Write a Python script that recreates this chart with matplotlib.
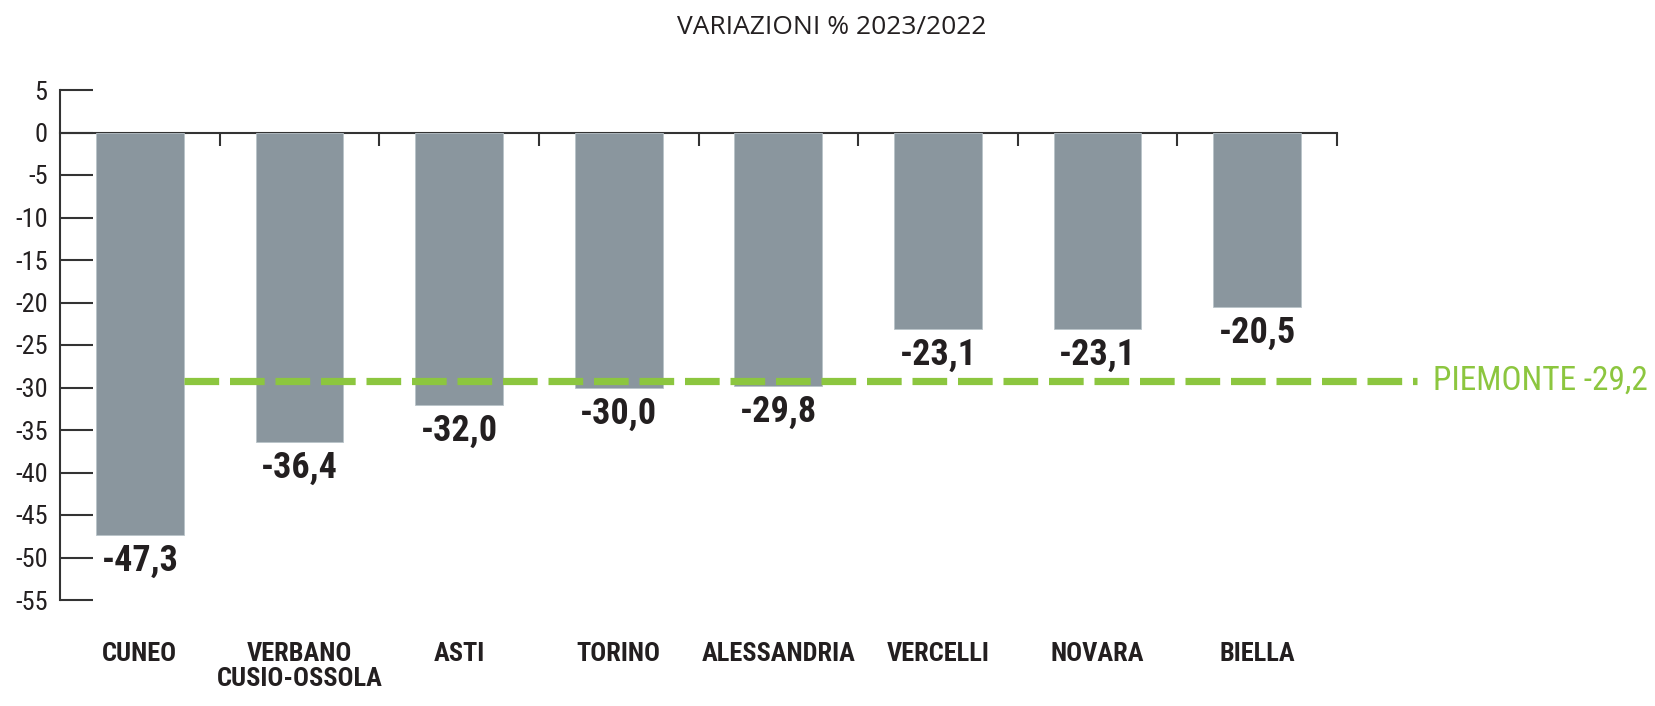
import numpy as np
import matplotlib
matplotlib.use("Agg")
import matplotlib.pyplot as plt
from matplotlib import font_manager

# data
provinces = ["CUNEO", "VERBANO\nCUSIO-OSSOLA", "ASTI", "TORINO", "ALESSANDRIA",
             "VERCELLI", "NOVARA", "BIELLA"]
variations = [-47.3, -36.4, -32.0, -30.0, -29.8, -23.1, -23.1, -20.5]
piemonte = -29.2
yticks = list(range(5, -56, -5))

BAR = "#8a969e"
GREEN = "#8cc63f"
INK = "#231f20"


def pick_narrow():
    # the original uses a condensed face, take the narrowest one we can find
    fonts = font_manager.fontManager.ttflist
    names = {f.name for f in fonts}
    for cand in ["Liberation Sans Narrow", "Roboto Condensed", "Open Sans Condensed",
                 "Noto Sans Condensed", "DejaVu Sans Condensed"]:
        if cand in names:
            return cand, 1.0
    for f in fonts:
        if "Narrow" in f.name or "Condensed" in f.name:
            return f.name, 1.0
    if "Roboto" in names:
        return "Roboto", 0.86
    return "Liberation Sans", 0.84


NARROW, k = pick_narrow()
FAM = [NARROW, "DejaVu Sans"]


def fmt(v):
    return "{:.1f}".format(v).replace(".", ",")


fig = plt.figure(figsize=(16.55, 7.06), dpi=100)
ax = fig.add_axes([60 / 1655, 1 - 600 / 706, 1277 / 1655, 510 / 706])

x = np.arange(len(provinces))
width = 0.55
ax.bar(x, variations, width=width, color=BAR, edgecolor="#b9c3c9", linewidth=0.6, zorder=3)

for xi, v in zip(x, variations):
    ax.annotate(fmt(v), (xi, v), xytext=(0, -6), textcoords="offset points",
                ha="center", va="top", fontsize=26 * k, fontweight="bold",
                family=FAM, color=INK, zorder=4)

# regional average
ax.hlines(piemonte, x[0] + width / 2, len(provinces), colors=GREEN, linewidth=5.2,
          linestyles=(0, (4.8, 1.5)), zorder=5, clip_on=False)
ax.text(len(provinces) + 0.1, piemonte, "PIEMONTE " + fmt(piemonte), ha="left", va="center",
        fontsize=24 * k, family=FAM, color=GREEN, clip_on=False)

ax.set_xlim(-0.5, len(provinces) - 0.5)
ax.set_ylim(-55, 5)
ax.set_yticks(yticks)
ax.set_yticklabels([str(t) for t in yticks], family=FAM, fontsize=19 * k, color=INK)

# zero line with separators pointing down
ax.spines["top"].set_position(("data", 0))
ax.spines["bottom"].set_visible(False)
ax.spines["right"].set_visible(False)
for s in ("top", "left"):
    ax.spines[s].set_color("#333333")
    ax.spines[s].set_linewidth(1.5)

ax.set_xticks(x)
ax.set_xticklabels(provinces, family=FAM, fontsize=19 * k, fontweight="bold",
                   color=INK, linespacing=1.05)
ax.set_xticks(x + 0.5, minor=True)
ax.tick_params(axis="x", which="major", length=0, pad=30, top=False, bottom=True)
ax.tick_params(axis="x", which="minor", top=True, bottom=False, direction="in",
               length=9.5, width=1.5, color="#333333")
ax.tick_params(axis="y", direction="in", length=24, width=1.5, color="#333333", pad=9)

fig.text(832 / 1655, 1 - 28 / 706, "VARIAZIONI % 2023/2022", ha="center", va="center",
         fontsize=19, family=["Open Sans", "DejaVu Sans"], color=INK)

fig.savefig("out.png", dpi=100)
